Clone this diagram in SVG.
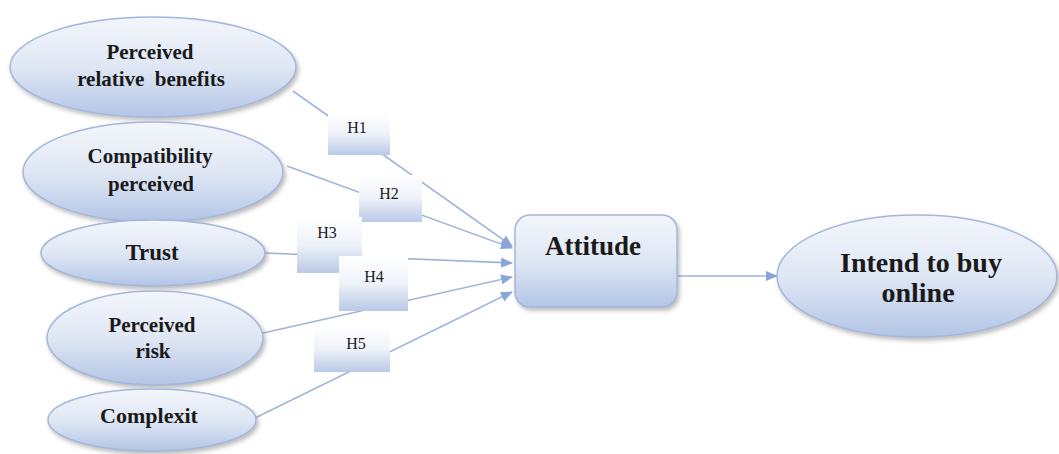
<svg xmlns="http://www.w3.org/2000/svg" width="1059" height="454" viewBox="0 0 1059 454">
<defs>
<linearGradient id="gEl" x1="0" y1="0" x2="0" y2="1">
<stop offset="0" stop-color="#f3f6fb"/>
<stop offset="0.5" stop-color="#dfe7f4"/>
<stop offset="1" stop-color="#b3c5e6"/>
</linearGradient>
<linearGradient id="gBox" x1="0" y1="0" x2="0" y2="1">
<stop offset="0" stop-color="#ffffff"/>
<stop offset="0.5" stop-color="#eef2f9"/>
<stop offset="1" stop-color="#b9c9e6"/>
</linearGradient>
<filter id="sh" x="-10%" y="-10%" width="125%" height="130%">
<feDropShadow dx="2" dy="3" stdDeviation="2" flood-color="#707070" flood-opacity="0.45"/>
</filter>
<marker id="ah" markerUnits="userSpaceOnUse" markerWidth="12" markerHeight="10" refX="11" refY="5" orient="auto">
<path d="M0,0 L12,5 L0,10 Z" fill="#8aa6d8"/>
</marker>
<style>
.el{fill:url(#gEl);stroke:#a3b7db;stroke-width:1.5;filter:url(#sh)}
.bx{fill:url(#gBox);stroke:none}
.t{font-family:"Liberation Serif","Times New Roman",serif;font-weight:bold;fill:#1a1a1a;text-anchor:middle}
.h{font-family:"Liberation Serif","Times New Roman",serif;font-size:16px;fill:#1a1a1a;text-anchor:middle}
.cn line{stroke:#9fb4da;stroke-width:1.6}
</style>
</defs>
<rect width="1059" height="454" fill="#ffffff"/>

<g id="connectors" class="cn">
<line x1="293" y1="91" x2="512" y2="246" marker-end="url(#ah)"/>
<line x1="287" y1="166" x2="512" y2="248" marker-end="url(#ah)"/>
<line x1="265" y1="253" x2="512" y2="263" marker-end="url(#ah)"/>
<line x1="263" y1="333" x2="512" y2="277" marker-end="url(#ah)"/>
<line x1="255" y1="418" x2="512" y2="292" marker-end="url(#ah)"/>
<line x1="677" y1="276" x2="777" y2="276" marker-end="url(#ah)"/>
</g>

<g id="n-benefits">
<ellipse class="el" cx="153" cy="67" rx="143" ry="50"/>
<text class="t" font-size="21" x="150" y="59">Perceived</text>
<text class="t" font-size="21" x="151" y="86" xml:space="preserve">relative  benefits</text>
</g>
<g id="n-compat">
<ellipse class="el" cx="153" cy="172" rx="130" ry="50"/>
<text class="t" font-size="21" x="150" y="163">Compatibility</text>
<text class="t" font-size="21" x="151" y="191">perceived</text>
</g>
<g id="n-trust">
<ellipse class="el" cx="153" cy="253" rx="112" ry="33"/>
<text class="t" font-size="23" x="152" y="260">Trust</text>
</g>
<g id="n-risk">
<ellipse class="el" cx="155" cy="338" rx="108" ry="47"/>
<text class="t" font-size="21" x="152" y="332">Perceived</text>
<text class="t" font-size="21" x="153" y="358">risk</text>
</g>
<g id="n-complex">
<ellipse class="el" cx="152" cy="420" rx="104" ry="31"/>
<text class="t" font-size="22" x="149" y="423">Complexit</text>
</g>

<g id="h1"><rect class="bx" x="328" y="113" width="62" height="42"/><text class="h" x="357" y="133">H1</text></g>
<g id="h2"><rect class="bx" x="359" y="175" width="63" height="47"/><text class="h" x="389" y="199">H2</text></g>
<g id="h3"><rect class="bx" x="297" y="217" width="65" height="56"/><text class="h" x="327" y="238">H3</text></g>
<g id="h4"><rect class="bx" x="339" y="256" width="69" height="55"/><text class="h" x="374" y="282">H4</text></g>
<g id="h5"><rect class="bx" x="314" y="327" width="76" height="45"/><text class="h" x="356" y="349">H5</text></g>

<g id="n-attitude">
<rect class="el" x="515" y="215" width="162" height="92" rx="15"/>
<text class="t" font-size="27" x="593" y="255">Attitude</text>
</g>
<g id="n-intend">
<ellipse class="el" cx="917" cy="276" rx="140" ry="61"/>
<text class="t" font-size="28" x="921" y="272">Intend to buy</text>
<text class="t" font-size="28" x="918" y="302">online</text>
</g>
</svg>
